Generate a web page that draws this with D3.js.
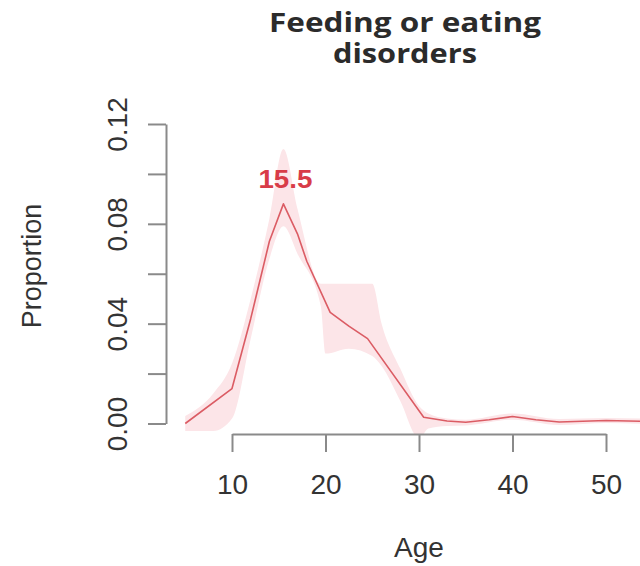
<!DOCTYPE html>
<html>
<head>
<meta charset="utf-8">
<script src="https://cdn.jsdelivr.net/npm/d3@7"></script>
<style>
  html, body { margin: 0; padding: 0; background: #fff; }
  svg { display: block; }
</style>
</head>
<body>
<svg id="chart" width="640" height="566"></svg>
<script>
// Age-specific proportion of onsets: estimate and confidence band
const ages = [5, 10, 12, 14, 15.5, 17, 18, 20.5, 22.5, 24.5, 30.5, 33, 35, 37.5, 40, 42.5, 45, 50, 55];
const proportion = [0.000, 0.014, 0.042, 0.073, 0.088, 0.076, 0.065, 0.0445, 0.039, 0.034, 0.0025, 0.001, 0.0005, 0.0015, 0.0028, 0.0015, 0.0006, 0.0012, 0.0008];

const bandAges = [5, 8, 10, 12, 14, 15.5, 17, 19.5, 20, 22.5, 25, 26, 28, 30, 31, 33, 35, 40, 45, 50, 55];
const bandUpper = [0.003, 0.012, 0.024, 0.05, 0.082, 0.11, 0.086, 0.056, 0.056, 0.056, 0.056, 0.04, 0.022, 0.007, 0.004, 0.002, 0.0015, 0.004, 0.0018, 0.0022, 0.0018];
const bandLower = [-0.003, -0.003, 0.002, 0.034, 0.066, 0.079, 0.068, 0.047, 0.028, 0.03, 0.027, 0.023, 0.009, -0.006, -0.002, -0.001, -0.0008, 0.0015, -0.0006, 0.0002, -0.0003];

const peakAge = 15.5;
const peakLabel = "15.5";

const xTicks = [10, 20, 30, 40, 50];
const yTicks = [0, 0.02, 0.04, 0.06, 0.08, 0.10, 0.12];
const yLabelled = [0, 0.04, 0.08, 0.12];

const titleLines = ["Feeding or eating", "disorders"];
const titleWidths = [272, 144];
const xTitle = "Age";
const yTitle = "Proportion";

const svg = d3.select("#chart");
const sans = "'Liberation Sans', Arial, sans-serif";

const x = d3.scaleLinear().domain([10, 50]).range([232, 606]);
const y = d3.scaleLinear().domain([0, 0.12]).range([423.5, 124]);

// plotting region used for clipping
const plotLeft = 166, plotBottom = 434;
svg.append("defs").append("clipPath").attr("id", "plotclip")
  .append("rect").attr("x", plotLeft).attr("y", 0)
  .attr("width", 640 - plotLeft).attr("height", plotBottom);

const g = svg.append("g").attr("clip-path", "url(#plotclip)");

const bandData = bandAges.map((a, i) => ({ a, lo: bandLower[i], hi: bandUpper[i] }));
g.append("path")
  .datum(bandData)
  .attr("fill", "#fce5e8")
  .attr("d", d3.area().curve(d3.curveMonotoneX).x(d => x(d.a)).y0(d => y(d.lo)).y1(d => y(d.hi)));

const lineData = ages.map((a, i) => ({ a, v: proportion[i] }));
g.append("path")
  .datum(lineData)
  .attr("fill", "none")
  .attr("stroke", "#db5c64")
  .attr("stroke-width", 1.6)
  .attr("stroke-linejoin", "round")
  .attr("d", d3.line().x(d => x(d.a)).y(d => y(d.v)));

// peak annotation
const peakVal = proportion[ages.indexOf(peakAge)];
svg.append("text")
  .attr("x", x(peakAge) + 2)
  .attr("y", y(peakVal) - 16)
  .attr("text-anchor", "middle")
  .attr("font-family", sans)
  .attr("font-weight", "bold")
  .attr("font-size", 26)
  .attr("textLength", 54)
  .attr("lengthAdjust", "spacingAndGlyphs")
  .attr("fill", "#d83c48")
  .text(peakLabel);

// x axis
const xAxis = svg.append("g")
  .attr("transform", `translate(0,${plotBottom})`)
  .call(d3.axisBottom(x).tickValues(xTicks).tickSize(18).tickSizeOuter(0).tickPadding(22).tickFormat(d3.format("d")));
xAxis.selectAll("path, line").attr("stroke", "#8a8a8a").attr("stroke-width", 2);
xAxis.selectAll("text")
  .attr("font-family", sans)
  .attr("font-size", 28)
  .attr("fill", "#333");

// y axis
const yAxis = svg.append("g")
  .attr("transform", `translate(${plotLeft},0)`)
  .call(d3.axisLeft(y).tickValues(yTicks).tickSize(18).tickSizeOuter(0)
    .tickFormat(d => yLabelled.some(v => Math.abs(v - d) < 1e-9) ? d3.format(".2f")(d) : ""));
yAxis.selectAll("path, line").attr("stroke", "#8a8a8a").attr("stroke-width", 2);
yAxis.selectAll("text")
  .attr("font-family", sans)
  .attr("font-size", 28)
  .attr("fill", "#333")
  .attr("text-anchor", "middle")
  .attr("dy", 0)
  .attr("x", 0)
  .attr("transform", "translate(-39,0) rotate(-90)");

// axis titles
svg.append("text")
  .attr("x", 419).attr("y", 557)
  .attr("text-anchor", "middle")
  .attr("font-family", sans)
  .attr("font-size", 28)
  .attr("fill", "#333")
  .text(xTitle);

svg.append("text")
  .attr("transform", "translate(41,266) rotate(-90)")
  .attr("text-anchor", "middle")
  .attr("font-family", sans)
  .attr("font-size", 27)
  .attr("fill", "#333")
  .text(yTitle);

// title
svg.append("g").selectAll("text")
  .data(titleLines)
  .join("text")
  .attr("x", 405)
  .attr("y", (d, i) => 32 + i * 31)
  .attr("text-anchor", "middle")
  .attr("font-family", "'Open Sans', sans-serif")
  .attr("font-weight", "bold")
  .attr("font-size", 26)
  .attr("textLength", (d, i) => titleWidths[i])
  .attr("lengthAdjust", "spacingAndGlyphs")
  .attr("fill", "#2b2b2b")
  .text(d => d);
</script>
</body>
</html>
